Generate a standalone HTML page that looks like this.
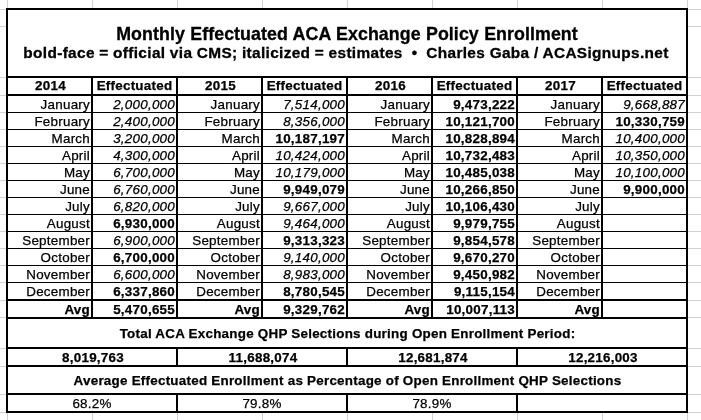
<!DOCTYPE html><html><head><meta charset="utf-8"><title>ACA</title><style>
html,body{margin:0;padding:0;background:#fff}
body{width:701px;height:420px;position:relative;overflow:hidden;font-family:"Liberation Sans",sans-serif;color:#000;font-size:14px}
.l{position:absolute;background:#000}
.g{position:absolute;background:#d2d2d2}
.t{position:absolute;white-space:pre;height:16px;line-height:16px;font-size:13.4px;letter-spacing:0.25px;-webkit-text-stroke:0.25px #000}
.h{-webkit-text-stroke:0.3px #000;word-spacing:0.3px}
.r{text-align:right}.c{text-align:center}.b{font-weight:bold}.i{font-style:italic}
#w{position:absolute;left:0;top:0;width:701px;height:420px;will-change:transform}
</style></head><body><div id="w">
<div class="g" style="left:7px;top:0;width:1px;height:420px"></div>
<div class="g" style="left:92px;top:0;width:1px;height:420px"></div>
<div class="g" style="left:177px;top:0;width:1px;height:420px"></div>
<div class="g" style="left:262px;top:0;width:1px;height:420px"></div>
<div class="g" style="left:347px;top:0;width:1px;height:420px"></div>
<div class="g" style="left:432px;top:0;width:1px;height:420px"></div>
<div class="g" style="left:517px;top:0;width:1px;height:420px"></div>
<div class="g" style="left:602px;top:0;width:1px;height:420px"></div>
<div class="g" style="left:687px;top:0;width:1px;height:420px"></div>
<div class="g" style="left:0;top:9px;width:701px;height:1px"></div>
<div class="g" style="left:0;top:26px;width:701px;height:1px"></div>
<div class="g" style="left:0;top:77px;width:701px;height:1px"></div>
<div class="g" style="left:0;top:95px;width:701px;height:1px"></div>
<div class="g" style="left:0;top:112px;width:701px;height:1px"></div>
<div class="g" style="left:0;top:129px;width:701px;height:1px"></div>
<div class="g" style="left:0;top:146px;width:701px;height:1px"></div>
<div class="g" style="left:0;top:163px;width:701px;height:1px"></div>
<div class="g" style="left:0;top:180px;width:701px;height:1px"></div>
<div class="g" style="left:0;top:197px;width:701px;height:1px"></div>
<div class="g" style="left:0;top:214px;width:701px;height:1px"></div>
<div class="g" style="left:0;top:231px;width:701px;height:1px"></div>
<div class="g" style="left:0;top:248px;width:701px;height:1px"></div>
<div class="g" style="left:0;top:265px;width:701px;height:1px"></div>
<div class="g" style="left:0;top:282px;width:701px;height:1px"></div>
<div class="g" style="left:0;top:300px;width:701px;height:1px"></div>
<div class="g" style="left:0;top:317px;width:701px;height:1px"></div>
<div class="g" style="left:0;top:348px;width:701px;height:1px"></div>
<div class="g" style="left:0;top:366px;width:701px;height:1px"></div>
<div class="g" style="left:0;top:394px;width:701px;height:1px"></div>
<div class="g" style="left:0;top:412px;width:701px;height:1px"></div>
<div style="position:absolute;left:6px;top:8px;width:682px;height:405px;background:#fff"></div>
<div class="l" style="left:6px;top:8px;width:682px;height:2px"></div>
<div class="l" style="left:6px;top:76px;width:682px;height:2px"></div>
<div class="l" style="left:6px;top:94px;width:682px;height:2px"></div>
<div class="l" style="left:6px;top:112px;width:682px;height:1px"></div>
<div class="l" style="left:6px;top:129px;width:682px;height:1px"></div>
<div class="l" style="left:6px;top:146px;width:682px;height:1px"></div>
<div class="l" style="left:6px;top:163px;width:682px;height:1px"></div>
<div class="l" style="left:6px;top:180px;width:682px;height:1px"></div>
<div class="l" style="left:6px;top:197px;width:682px;height:1px"></div>
<div class="l" style="left:6px;top:214px;width:682px;height:1px"></div>
<div class="l" style="left:6px;top:231px;width:682px;height:1px"></div>
<div class="l" style="left:6px;top:248px;width:682px;height:1px"></div>
<div class="l" style="left:6px;top:265px;width:682px;height:1px"></div>
<div class="l" style="left:6px;top:282px;width:682px;height:1px"></div>
<div class="l" style="left:6px;top:299px;width:682px;height:2px"></div>
<div class="l" style="left:6px;top:317px;width:682px;height:2px"></div>
<div class="l" style="left:6px;top:347px;width:682px;height:2px"></div>
<div class="l" style="left:6px;top:365px;width:682px;height:2px"></div>
<div class="l" style="left:6px;top:393px;width:682px;height:2px"></div>
<div class="l" style="left:6px;top:411px;width:682px;height:2px"></div>
<div class="l" style="left:6px;top:8px;width:2px;height:405px"></div>
<div class="l" style="left:686px;top:8px;width:2px;height:405px"></div>
<div class="l" style="left:91px;top:76px;width:2px;height:243px"></div>
<div class="l" style="left:176px;top:76px;width:2px;height:243px"></div>
<div class="l" style="left:261px;top:76px;width:2px;height:243px"></div>
<div class="l" style="left:346px;top:76px;width:2px;height:243px"></div>
<div class="l" style="left:431px;top:76px;width:2px;height:243px"></div>
<div class="l" style="left:516px;top:76px;width:2px;height:243px"></div>
<div class="l" style="left:601px;top:76px;width:2px;height:243px"></div>
<div class="l" style="left:176px;top:347px;width:2px;height:20px"></div>
<div class="l" style="left:176px;top:393px;width:2px;height:20px"></div>
<div class="l" style="left:346px;top:347px;width:2px;height:20px"></div>
<div class="l" style="left:346px;top:393px;width:2px;height:20px"></div>
<div class="l" style="left:516px;top:347px;width:2px;height:20px"></div>
<div class="l" style="left:516px;top:393px;width:2px;height:20px"></div>
<div class="t c b h" style="left:8px;top:23px;width:678px;font-size:17.8px;letter-spacing:0.08px;height:22px;line-height:22px">Monthly Effectuated ACA Exchange Policy Enrollment</div>
<div class="t c b h" style="left:7px;top:43px;width:678px;font-size:15.4px;letter-spacing:0.34px;word-spacing:-0.14px;height:20px;line-height:20px">bold-face = official via CMS; italicized = estimates  •  Charles Gaba / ACASignups.net</div>
<div class="t c b" style="left:9px;top:78.2px;width:83px">2014</div>
<div class="t c b" style="left:93px;top:78.2px;width:83px">Effectuated</div>
<div class="t r" style="left:8px;top:96.5px;width:82px">January</div>
<div class="t r i" style="left:93px;top:96.5px;width:82px">2,000,000</div>
<div class="t r" style="left:8px;top:113.5px;width:82px">February</div>
<div class="t r i" style="left:93px;top:113.5px;width:82px">2,400,000</div>
<div class="t r" style="left:8px;top:130.5px;width:82px">March</div>
<div class="t r i" style="left:93px;top:130.5px;width:82px">3,200,000</div>
<div class="t r" style="left:8px;top:147.5px;width:82px">April</div>
<div class="t r i" style="left:93px;top:147.5px;width:82px">4,300,000</div>
<div class="t r" style="left:8px;top:164.5px;width:82px">May</div>
<div class="t r i" style="left:93px;top:164.5px;width:82px">6,700,000</div>
<div class="t r" style="left:8px;top:181.5px;width:82px">June</div>
<div class="t r i" style="left:93px;top:181.5px;width:82px">6,760,000</div>
<div class="t r" style="left:8px;top:198.5px;width:82px">July</div>
<div class="t r i" style="left:93px;top:198.5px;width:82px">6,820,000</div>
<div class="t r" style="left:8px;top:215.5px;width:82px">August</div>
<div class="t r b" style="left:93px;top:215.5px;width:82px">6,930,000</div>
<div class="t r" style="left:8px;top:232.5px;width:82px">September</div>
<div class="t r i" style="left:93px;top:232.5px;width:82px">6,900,000</div>
<div class="t r" style="left:8px;top:249.5px;width:82px">October</div>
<div class="t r b" style="left:93px;top:249.5px;width:82px">6,700,000</div>
<div class="t r" style="left:8px;top:266.5px;width:82px">November</div>
<div class="t r i" style="left:93px;top:266.5px;width:82px">6,600,000</div>
<div class="t r" style="left:8px;top:283.5px;width:82px">December</div>
<div class="t r b" style="left:93px;top:283.5px;width:82px">6,337,860</div>
<div class="t r b" style="left:8px;top:301.5px;width:82px">Avg</div>
<div class="t r b" style="left:93px;top:301.5px;width:82px">5,470,655</div>
<div class="t c b" style="left:9px;top:350px;width:168px">8,019,763</div>
<div class="t c" style="left:8px;top:396px;width:168px">68.2%</div>
<div class="t c b" style="left:179px;top:78.2px;width:83px">2015</div>
<div class="t c b" style="left:263px;top:78.2px;width:83px">Effectuated</div>
<div class="t r" style="left:178px;top:96.5px;width:82px">January</div>
<div class="t r i" style="left:263px;top:96.5px;width:82px">7,514,000</div>
<div class="t r" style="left:178px;top:113.5px;width:82px">February</div>
<div class="t r i" style="left:263px;top:113.5px;width:82px">8,356,000</div>
<div class="t r" style="left:178px;top:130.5px;width:82px">March</div>
<div class="t r b" style="left:263px;top:130.5px;width:82px">10,187,197</div>
<div class="t r" style="left:178px;top:147.5px;width:82px">April</div>
<div class="t r i" style="left:263px;top:147.5px;width:82px">10,424,000</div>
<div class="t r" style="left:178px;top:164.5px;width:82px">May</div>
<div class="t r i" style="left:263px;top:164.5px;width:82px">10,179,000</div>
<div class="t r" style="left:178px;top:181.5px;width:82px">June</div>
<div class="t r b" style="left:263px;top:181.5px;width:82px">9,949,079</div>
<div class="t r" style="left:178px;top:198.5px;width:82px">July</div>
<div class="t r i" style="left:263px;top:198.5px;width:82px">9,667,000</div>
<div class="t r" style="left:178px;top:215.5px;width:82px">August</div>
<div class="t r i" style="left:263px;top:215.5px;width:82px">9,464,000</div>
<div class="t r" style="left:178px;top:232.5px;width:82px">September</div>
<div class="t r b" style="left:263px;top:232.5px;width:82px">9,313,323</div>
<div class="t r" style="left:178px;top:249.5px;width:82px">October</div>
<div class="t r i" style="left:263px;top:249.5px;width:82px">9,140,000</div>
<div class="t r" style="left:178px;top:266.5px;width:82px">November</div>
<div class="t r i" style="left:263px;top:266.5px;width:82px">8,983,000</div>
<div class="t r" style="left:178px;top:283.5px;width:82px">December</div>
<div class="t r b" style="left:263px;top:283.5px;width:82px">8,780,545</div>
<div class="t r b" style="left:178px;top:301.5px;width:82px">Avg</div>
<div class="t r b" style="left:263px;top:301.5px;width:82px">9,329,762</div>
<div class="t c b" style="left:179px;top:350px;width:168px">11,688,074</div>
<div class="t c" style="left:178px;top:396px;width:168px">79.8%</div>
<div class="t c b" style="left:349px;top:78.2px;width:83px">2016</div>
<div class="t c b" style="left:433px;top:78.2px;width:83px">Effectuated</div>
<div class="t r" style="left:348px;top:96.5px;width:82px">January</div>
<div class="t r b" style="left:433px;top:96.5px;width:82px">9,473,222</div>
<div class="t r" style="left:348px;top:113.5px;width:82px">February</div>
<div class="t r b" style="left:433px;top:113.5px;width:82px">10,121,700</div>
<div class="t r" style="left:348px;top:130.5px;width:82px">March</div>
<div class="t r b" style="left:433px;top:130.5px;width:82px">10,828,894</div>
<div class="t r" style="left:348px;top:147.5px;width:82px">April</div>
<div class="t r b" style="left:433px;top:147.5px;width:82px">10,732,483</div>
<div class="t r" style="left:348px;top:164.5px;width:82px">May</div>
<div class="t r b" style="left:433px;top:164.5px;width:82px">10,485,038</div>
<div class="t r" style="left:348px;top:181.5px;width:82px">June</div>
<div class="t r b" style="left:433px;top:181.5px;width:82px">10,266,850</div>
<div class="t r" style="left:348px;top:198.5px;width:82px">July</div>
<div class="t r b" style="left:433px;top:198.5px;width:82px">10,106,430</div>
<div class="t r" style="left:348px;top:215.5px;width:82px">August</div>
<div class="t r b" style="left:433px;top:215.5px;width:82px">9,979,755</div>
<div class="t r" style="left:348px;top:232.5px;width:82px">September</div>
<div class="t r b" style="left:433px;top:232.5px;width:82px">9,854,578</div>
<div class="t r" style="left:348px;top:249.5px;width:82px">October</div>
<div class="t r b" style="left:433px;top:249.5px;width:82px">9,670,270</div>
<div class="t r" style="left:348px;top:266.5px;width:82px">November</div>
<div class="t r b" style="left:433px;top:266.5px;width:82px">9,450,982</div>
<div class="t r" style="left:348px;top:283.5px;width:82px">December</div>
<div class="t r b" style="left:433px;top:283.5px;width:82px">9,115,154</div>
<div class="t r b" style="left:348px;top:301.5px;width:82px">Avg</div>
<div class="t r b" style="left:433px;top:301.5px;width:82px">10,007,113</div>
<div class="t c b" style="left:349px;top:350px;width:168px">12,681,874</div>
<div class="t c" style="left:348px;top:396px;width:168px">78.9%</div>
<div class="t c b" style="left:519px;top:78.2px;width:83px">2017</div>
<div class="t c b" style="left:603px;top:78.2px;width:83px">Effectuated</div>
<div class="t r" style="left:518px;top:96.5px;width:82px">January</div>
<div class="t r i" style="left:603px;top:96.5px;width:82px">9,668,887</div>
<div class="t r" style="left:518px;top:113.5px;width:82px">February</div>
<div class="t r b" style="left:603px;top:113.5px;width:82px">10,330,759</div>
<div class="t r" style="left:518px;top:130.5px;width:82px">March</div>
<div class="t r i" style="left:603px;top:130.5px;width:82px">10,400,000</div>
<div class="t r" style="left:518px;top:147.5px;width:82px">April</div>
<div class="t r i" style="left:603px;top:147.5px;width:82px">10,350,000</div>
<div class="t r" style="left:518px;top:164.5px;width:82px">May</div>
<div class="t r i" style="left:603px;top:164.5px;width:82px">10,100,000</div>
<div class="t r" style="left:518px;top:181.5px;width:82px">June</div>
<div class="t r b" style="left:603px;top:181.5px;width:82px">9,900,000</div>
<div class="t r" style="left:518px;top:198.5px;width:82px">July</div>
<div class="t r" style="left:518px;top:215.5px;width:82px">August</div>
<div class="t r" style="left:518px;top:232.5px;width:82px">September</div>
<div class="t r" style="left:518px;top:249.5px;width:82px">October</div>
<div class="t r" style="left:518px;top:266.5px;width:82px">November</div>
<div class="t r" style="left:518px;top:283.5px;width:82px">December</div>
<div class="t r b" style="left:518px;top:301.5px;width:82px">Avg</div>
<div class="t c b" style="left:519px;top:350px;width:168px">12,216,003</div>
<div class="t c b" style="left:8.5px;top:326px;width:678px">Total ACA Exchange QHP Selections during Open Enrollment Period:</div>
<div class="t c b" style="left:8.5px;top:373px;width:678px">Average Effectuated Enrollment as Percentage of Open Enrollment QHP Selections</div>
</div></body></html>
